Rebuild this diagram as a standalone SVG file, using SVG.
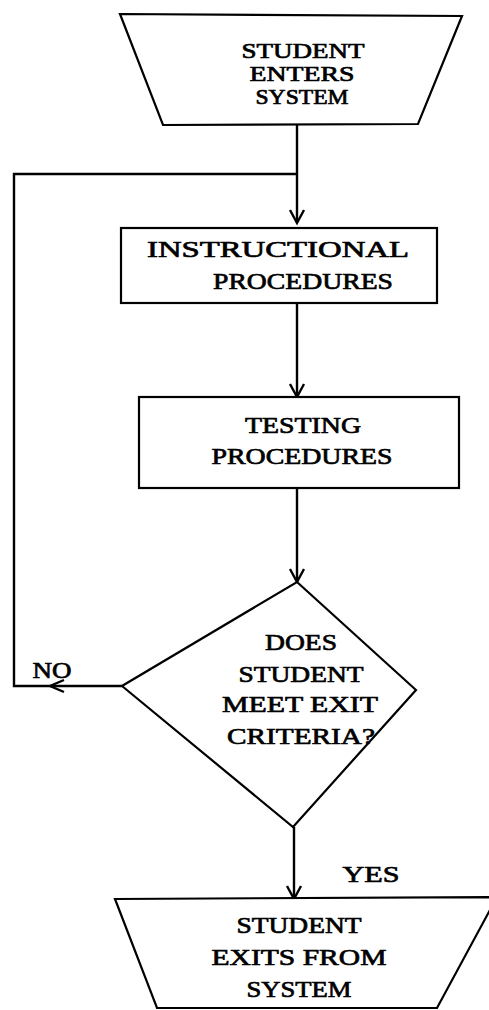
<svg xmlns="http://www.w3.org/2000/svg" width="489" height="1010" viewBox="0 0 489 1010">
<defs>
<style>
.s{fill:#fff;stroke:#000;stroke-width:2.2}
.c{fill:none;stroke:#000;stroke-width:2.4}
.h{fill:none;stroke:#000;stroke-width:2.4;stroke-linejoin:miter}
text{font-family:"Liberation Serif","DejaVu Serif",serif;font-size:24px;fill:#000;stroke:#000;stroke-width:0.7;text-anchor:middle}
.t{font-size:22px}
</style>
</defs>
<rect width="489" height="1010" fill="#fff"/>
<g id="connectors">
<polyline class="c" points="297,125 297,222"/>
<polyline class="c" points="297,174 14,174 14,686 122,686"/>
<polyline class="c" points="297,303 297,396"/>
<polyline class="c" points="297,488 297,581"/>
<polyline class="c" points="294,827 294,898"/>
<polyline class="h" points="290,210 297,223 304,210"/>
<polyline class="h" points="290,384 297,397 304,384"/>
<polyline class="h" points="290,569 297,582 304,569"/>
<polyline class="h" points="287,886 294,899 301,886"/>
<polyline class="h" points="64,680 50,686 64,692"/>
<text x="52" y="678" textLength="39" lengthAdjust="spacingAndGlyphs">NO</text>
<text x="371" y="882" textLength="57" lengthAdjust="spacingAndGlyphs">YES</text>
</g>
<g id="start">
<polygon class="s" points="120,14 462,16 418,124 163,125"/>
<text class="t" x="303" y="58" textLength="123" lengthAdjust="spacingAndGlyphs">STUDENT</text>
<text class="t" x="302" y="81" textLength="105" lengthAdjust="spacingAndGlyphs">ENTERS</text>
<text class="t" x="302" y="104" textLength="93" lengthAdjust="spacingAndGlyphs">SYSTEM</text>
</g>
<g id="instructional">
<rect class="s" x="121" y="228" width="316" height="75"/>
<text x="278" y="257" textLength="262" lengthAdjust="spacingAndGlyphs">INSTRUCTIONAL</text>
<text x="303" y="289" textLength="180" lengthAdjust="spacingAndGlyphs">PROCEDURES</text>
</g>
<g id="testing">
<rect class="s" x="139" y="397" width="320" height="91"/>
<text x="303" y="433" textLength="116" lengthAdjust="spacingAndGlyphs">TESTING</text>
<text x="302" y="464" textLength="181" lengthAdjust="spacingAndGlyphs">PROCEDURES</text>
</g>
<g id="decision">
<polygon class="s" points="297,582 416,690 293,827 122,686"/>
<text x="301" y="650" textLength="72" lengthAdjust="spacingAndGlyphs">DOES</text>
<text x="301" y="682" textLength="125" lengthAdjust="spacingAndGlyphs">STUDENT</text>
<text x="300" y="712" textLength="156" lengthAdjust="spacingAndGlyphs">MEET EXIT</text>
<text x="301" y="744" textLength="148" lengthAdjust="spacingAndGlyphs">CRITERIA?</text>
</g>
<g id="end">
<polygon class="s" points="115,899 497,897 437,1008 157,1008"/>
<text x="299" y="933" textLength="125" lengthAdjust="spacingAndGlyphs">STUDENT</text>
<text x="299" y="965" textLength="175" lengthAdjust="spacingAndGlyphs">EXITS FROM</text>
<text x="299" y="997" textLength="105" lengthAdjust="spacingAndGlyphs">SYSTEM</text>
</g>
</svg>
